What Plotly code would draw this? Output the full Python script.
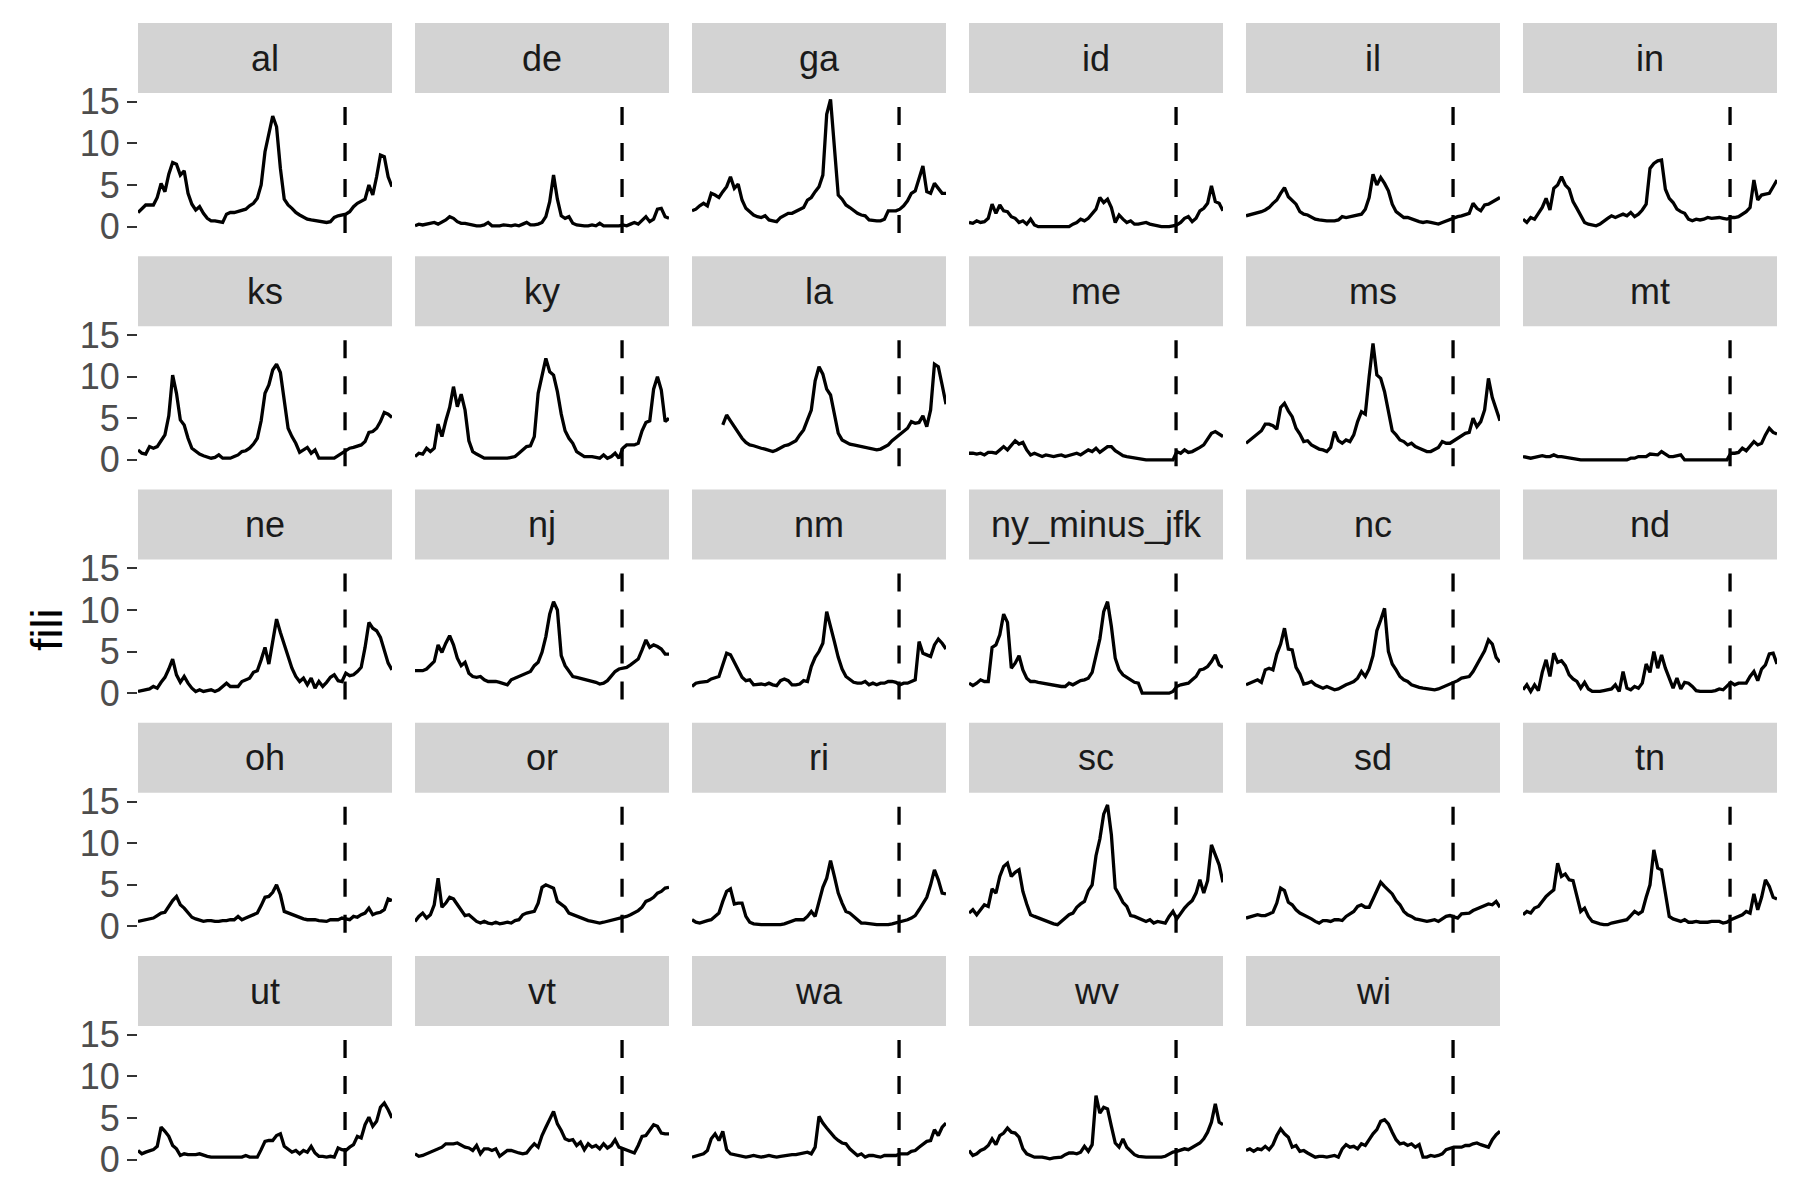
import plotly.graph_objects as go

# ---------------- data ----------------
weeks = list(range(67))
forecast_week = 53.8
states = ["al", "de", "ga", "id", "il", "in",
          "ks", "ky", "la", "me", "ms", "mt",
          "ne", "nj", "nm", "ny_minus_jfk", "nc", "nd",
          "oh", "or", "ri", "sc", "sd", "tn",
          "ut", "vt", "wa", "wv", "wi"]
y_ticks = [0, 5, 10, 15]
y_label = "fili"

fili_al = [1.7,2.2,2.6,2.6,2.6,3.5,5.2,4.2,6.3,7.7, 7.5,6.2,6.7,4.0,2.7,2.0,2.4,1.6,1.0,0.7, 0.7,0.6,0.5,1.5,1.7,1.7,1.8,1.9,2.1,2.5, 2.8,3.4,5.0,9.0,11.0,13.3,12.0,7.0,3.3,2.6, 2.2,1.7,1.4,1.1,0.9,0.8,0.7,0.6,0.5,0.5, 0.6,1.1,1.3,1.4,1.5,1.8,2.4,2.8,3.0,3.3, 5.0,3.8,6.0,8.6,8.4,6.0,4.8]
fili_de = [0.1,0.3,0.2,0.3,0.4,0.5,0.3,0.5,0.8,1.2, 1.0,0.6,0.4,0.4,0.3,0.1,0.1,0.1,0.2,0.5, 0.1,0.1,0.1,0.2,0.1,0.1,0.2,0.1,0.3,0.5, 0.2,0.2,0.3,0.5,1.2,3.0,6.2,3.3,1.3,1.0, 1.2,0.4,0.2,0.1,0.1,0.1,0.2,0.1,0.4,0.1, 0.1,0.1,0.1,0.1,0.2,0.1,0.3,0.5,0.3,0.8, 1.2,0.6,0.9,2.1,2.2,1.2,1.0]
fili_ga = [1.9,2.1,2.5,2.8,2.5,4.0,3.8,3.5,4.2,4.8, 6.0,4.6,5.1,3.2,2.2,1.8,1.4,1.2,1.1,1.3, 0.8,0.7,0.6,1.1,1.4,1.6,1.6,1.8,2.0,2.3, 3.2,3.5,4.2,4.8,6.2,13.5,15.3,9.0,3.8,3.3, 2.6,2.3,1.9,1.6,1.4,1.3,0.8,0.7,0.7,0.7, 0.9,1.9,1.9,1.9,2.1,2.5,3.1,4.0,4.3,5.7, 7.3,4.2,4.0,5.2,4.6,4.0,4.0]
fili_id = [0.5,0.4,0.7,0.5,0.6,1.0,2.7,1.6,2.6,1.9, 1.8,1.2,1.0,0.5,0.7,0.3,0.9,0.2,0.0,0.0, 0.0,0.0,0.0,0.0,0.0,0.0,0.0,0.3,0.5,0.9, 0.7,1.0,1.5,2.1,3.5,2.9,3.3,2.3,0.5,1.4, 0.9,0.5,0.7,0.3,0.3,0.4,0.5,0.3,0.2,0.0, 0.0,0.0,0.0,0.1,0.2,0.5,1.0,1.2,0.6,1.0, 1.9,2.2,2.8,4.9,3.0,2.8,1.9]
fili_il = [1.3,1.4,1.6,1.7,1.8,2.0,2.3,2.8,3.2,4.0, 4.7,3.6,3.2,2.7,1.8,1.5,1.4,1.1,0.9,0.8, 0.7,0.7,0.7,0.7,0.8,1.2,1.1,1.2,1.3,1.4, 1.5,2.1,3.5,6.3,5.0,5.9,5.2,4.3,2.7,1.8, 1.5,1.1,1.1,0.9,0.7,0.6,0.5,0.6,0.5,0.4, 0.3,0.5,0.7,0.9,1.1,1.2,1.3,1.4,1.6,2.8, 2.2,1.9,2.6,2.7,3.0,3.3,3.5]
fili_in = [0.9,0.5,1.1,0.9,1.6,2.3,3.4,2.0,4.6,5.0, 6.0,5.0,4.5,3.0,2.2,1.3,0.5,0.3,0.2,0.1, 0.3,0.7,1.0,1.3,1.1,1.3,1.5,1.3,1.7,1.2, 1.5,2.0,2.7,7.0,7.6,7.9,8.0,4.5,3.4,2.9, 2.1,1.8,1.6,0.9,0.7,0.9,0.8,0.9,1.1,1.0, 1.1,1.1,1.0,0.9,1.1,1.1,1.2,1.5,1.8,2.3, 5.6,3.2,3.8,3.9,4.0,4.8,5.6]
fili_ks = [1.2,0.8,0.7,1.6,1.4,1.6,2.3,3.0,5.3,10.2, 8.0,4.8,4.2,2.6,1.4,1.0,0.7,0.5,0.4,0.2, 0.3,0.6,0.2,0.2,0.2,0.4,0.6,1.0,1.1,1.4, 1.9,2.6,4.7,8.0,9.0,10.8,11.5,10.5,6.8,3.8, 2.8,2.0,0.9,1.2,1.5,0.8,1.2,0.2,0.2,0.2, 0.2,0.2,0.5,0.8,1.2,1.4,1.5,1.6,1.8,2.2, 3.3,3.4,3.8,4.6,5.7,5.5,5.1]
fili_ky = [0.4,0.8,0.7,1.4,1.0,1.4,4.3,2.8,4.7,6.3, 8.8,6.4,7.9,6.0,2.3,1.0,0.7,0.4,0.2,0.2, 0.2,0.2,0.2,0.2,0.2,0.3,0.4,0.8,1.2,1.6, 1.7,2.8,8.0,10.3,12.2,10.6,10.2,8.2,5.5,3.5, 2.6,2.0,1.0,0.7,0.4,0.4,0.4,0.3,0.2,0.6, 0.2,0.4,0.8,0.2,1.4,1.8,1.8,1.8,2.0,3.5, 4.5,4.7,8.5,10.0,8.4,4.6,5.0]
fili_la = [None,None,None,None,None,None,None,None,4.2,5.4, 4.7,4.0,3.4,2.6,2.1,1.8,1.7,1.5,1.4,1.3, 1.1,1.0,1.2,1.5,1.7,1.8,2.0,2.3,3.0,3.6, 4.8,6.0,9.5,11.2,10.3,8.5,7.8,5.5,3.2,2.4, 2.1,1.9,1.8,1.7,1.5,1.4,1.3,1.2,1.2,1.3, 1.5,1.8,2.3,2.7,3.1,3.5,3.8,4.6,4.4,4.5, 5.3,4.0,6.0,11.5,11.2,9.0,6.7]
fili_me = [0.8,0.8,0.7,0.8,0.6,0.9,0.9,0.8,1.2,1.6, 1.2,1.8,2.3,1.9,2.1,1.2,0.6,0.8,0.6,0.4, 0.6,0.5,0.4,0.5,0.6,0.4,0.5,0.6,0.8,0.6, 0.9,1.2,1.0,1.4,0.9,1.2,1.6,1.6,1.1,0.8, 0.5,0.4,0.3,0.2,0.2,0.1,0.0,0.0,0.0,0.0, 0.0,0.0,0.0,0.0,1.0,0.8,1.2,0.9,1.0,1.2, 1.5,1.8,2.5,3.2,3.4,3.1,2.8]
fili_ms = [2.0,2.4,2.7,3.2,3.5,4.3,4.3,4.1,3.7,6.3, 6.8,5.9,5.2,3.8,3.1,2.2,2.3,1.8,1.5,1.3, 1.2,1.0,1.5,3.4,2.3,2.0,2.4,2.2,3.0,4.6, 5.8,5.5,10.0,14.0,10.2,9.8,8.2,6.0,3.5,3.0, 2.4,2.2,1.8,2.0,1.6,1.4,1.2,1.0,1.0,1.2, 1.5,2.2,2.0,2.0,2.3,2.6,2.9,3.2,3.3,5.0, 4.0,4.6,6.0,9.8,7.5,6.0,4.7]
fili_mt = [0.4,0.3,0.2,0.3,0.4,0.5,0.4,0.4,0.6,0.4, 0.4,0.3,0.3,0.1,0.0,0.0,0.0,0.0,0.0,0.0, 0.0,0.0,0.0,0.0,0.0,0.0,0.0,0.0,0.2,0.2, 0.4,0.4,0.4,0.7,0.6,0.6,1.0,0.7,0.4,0.4, 0.5,0.6,0.0,0.0,0.0,0.0,0.0,0.0,0.0,0.0, 0.0,0.0,0.0,0.0,0.8,0.8,0.9,1.4,1.1,1.6, 2.2,1.8,2.0,3.0,3.8,3.3,3.1]
fili_ne = [0.2,0.3,0.5,0.5,0.8,0.6,1.3,1.9,2.9,4.1, 2.2,1.3,2.0,1.2,0.6,0.2,0.4,0.2,0.3,0.4, 0.2,0.4,0.8,1.2,0.8,0.8,0.8,1.4,1.6,1.8, 2.5,2.7,4.0,5.5,3.5,6.0,8.9,7.3,5.8,4.3, 3.0,2.0,1.4,1.8,1.0,1.8,0.6,1.4,0.8,1.3, 1.9,2.2,1.5,1.4,2.4,2.1,2.2,2.6,3.1,5.5, 8.5,7.8,7.5,6.7,5.1,3.6,2.8]
fili_nj = [2.7,2.7,2.7,2.9,3.4,3.8,5.8,4.9,6.0,6.9, 5.8,4.2,3.3,3.7,2.4,2.0,1.9,2.0,1.6,1.4, 1.4,1.4,1.3,1.2,1.0,1.6,1.8,2.0,2.1,2.4, 2.6,3.3,3.7,4.9,6.8,9.5,11.0,10.0,4.5,3.3, 2.6,2.0,1.9,1.8,1.6,1.6,1.5,1.3,1.1,1.2, 1.5,2.0,2.6,2.9,3.0,3.1,3.4,3.7,4.1,5.2, 6.4,5.5,5.8,5.6,5.3,4.7,4.7]
fili_nm = [0.8,1.2,1.3,1.4,1.4,1.7,1.9,2.0,3.4,4.8, 4.6,3.7,2.8,1.9,1.5,1.6,1.0,1.1,1.1,1.0, 1.2,1.0,0.9,1.5,1.7,1.5,1.0,1.0,1.1,1.5, 1.4,3.2,4.3,5.0,6.0,9.8,7.8,6.2,4.3,2.9, 2.0,1.6,1.3,1.2,1.2,1.4,1.0,1.2,1.0,1.2, 1.2,1.4,1.4,1.3,1.0,1.2,1.2,1.4,1.6,6.2, 4.8,4.6,4.4,5.8,6.5,6.0,5.3]
fili_ny_minus_jfk = [1.2,0.9,1.2,1.6,1.4,1.4,5.5,5.8,7.0,9.5, 8.5,3.0,3.6,4.5,2.8,1.8,1.4,1.4,1.3,1.2, 1.1,1.0,0.9,0.8,0.8,0.8,1.2,1.0,1.3,1.5, 1.6,1.8,2.5,4.5,6.5,9.8,11.0,8.0,4.2,2.8, 2.2,1.9,1.6,1.3,1.2,0.0,0.0,0.0,0.0,0.0, 0.0,0.0,0.0,0.2,0.8,1.0,1.1,1.2,1.6,2.0, 2.8,2.9,3.2,3.8,4.6,3.4,3.1]
fili_nc = [1.0,1.2,1.4,1.6,1.3,2.8,3.0,2.8,4.7,5.9, 7.8,5.3,5.2,3.1,2.3,1.1,1.2,1.4,1.0,0.8, 0.6,0.8,0.6,0.4,0.5,0.8,1.0,1.2,1.4,1.8, 2.6,2.0,2.9,4.5,7.5,8.8,10.2,5.0,3.5,2.8, 2.0,1.6,1.4,1.0,0.8,0.7,0.6,0.5,0.4,0.4, 0.5,0.7,0.8,1.0,1.3,1.5,1.8,1.9,2.0,2.6, 3.5,4.2,5.1,6.4,5.9,4.3,3.7]
fili_nd = [0.4,1.0,0.2,1.0,0.3,2.5,4.0,2.0,4.8,3.7, 3.9,3.3,2.2,1.7,1.4,0.6,1.3,0.5,0.2,0.2, 0.2,0.3,0.4,0.5,1.0,0.2,2.6,0.6,0.4,0.8, 0.6,1.2,3.5,2.5,5.0,3.0,4.6,3.0,1.8,0.6, 1.8,0.5,1.3,1.2,0.8,0.3,0.2,0.2,0.2,0.2, 0.3,0.5,0.4,0.9,1.3,1.0,1.2,1.2,1.2,2.0, 2.6,1.5,2.9,3.4,4.7,4.8,3.5]
fili_oh = [0.6,0.7,0.8,0.9,1.0,1.3,1.6,1.7,2.4,3.1, 3.6,2.6,2.2,1.6,1.1,0.9,0.8,0.6,0.7,0.7, 0.6,0.6,0.7,0.7,0.8,0.8,1.2,0.8,1.0,1.2, 1.4,1.6,2.5,3.5,3.6,4.1,5.0,3.8,1.8,1.6, 1.4,1.2,1.0,0.9,0.8,0.8,0.8,0.7,0.6,0.6, 0.8,0.8,0.8,1.0,0.9,0.8,1.2,1.1,1.4,1.6, 2.2,1.4,1.6,1.7,2.0,3.3,3.1]
fili_or = [0.6,1.2,1.6,1.0,1.4,2.6,5.8,2.3,2.8,3.5, 3.3,2.6,2.0,1.3,1.4,1.0,0.6,0.4,0.6,0.4, 0.3,0.5,0.3,0.4,0.5,0.4,0.7,0.8,1.4,1.6, 1.7,1.8,2.8,4.7,5.0,4.8,4.6,3.0,2.6,2.3, 1.6,1.4,1.3,1.0,0.8,0.7,0.6,0.5,0.4,0.5, 0.6,0.7,0.8,0.9,1.0,1.2,1.4,1.6,1.9,2.3, 3.0,3.2,3.5,4.0,4.2,4.6,4.7]
fili_ri = [0.8,0.5,0.4,0.6,0.7,0.8,1.2,1.6,3.0,4.2, 4.5,2.7,2.8,2.8,1.2,0.5,0.3,0.2,0.2,0.2, 0.2,0.2,0.2,0.2,0.3,0.5,0.6,0.8,0.8,0.8, 1.2,1.8,1.2,3.0,4.7,5.8,7.9,6.0,4.0,2.8, 1.8,1.6,1.2,0.8,0.4,0.4,0.3,0.2,0.2,0.2, 0.2,0.2,0.3,0.4,0.5,0.6,0.8,1.0,1.3,2.0, 2.7,3.5,5.0,6.8,5.6,4.0,3.9]
fili_sc = [1.6,2.0,1.4,2.0,2.6,2.4,4.5,4.0,6.0,7.2, 7.6,6.0,6.5,6.8,4.2,2.7,1.4,1.2,1.0,0.8, 0.6,0.4,0.3,0.2,0.6,1.0,1.4,1.6,2.3,2.7, 3.0,4.3,5.0,8.5,10.5,13.5,14.6,11.0,4.6,3.8, 2.9,2.4,1.3,1.2,1.0,0.8,0.6,0.8,0.4,0.6, 0.5,0.4,1.2,1.8,0.9,1.6,2.2,2.7,3.1,4.0, 5.6,4.0,5.5,9.8,8.7,7.4,5.3]
fili_sd = [1.0,1.1,1.2,1.4,1.3,1.3,1.5,1.7,2.8,4.6, 4.3,2.9,2.6,2.0,1.6,1.4,1.1,0.9,0.6,0.4, 0.7,0.7,0.6,0.8,0.8,0.7,1.2,1.5,1.8,2.4, 2.6,2.3,2.3,3.3,4.3,5.3,4.8,4.4,3.9,3.1, 2.6,1.8,1.4,1.2,0.9,0.8,0.7,0.6,0.7,0.8, 0.6,0.9,1.2,1.3,1.1,1.0,1.5,1.6,1.6,1.9, 2.1,2.4,2.6,2.7,2.6,3.0,2.3]
fili_tn = [1.4,1.8,1.6,2.2,2.4,3.0,3.6,4.0,4.4,7.6, 6.0,6.3,5.6,5.5,3.8,1.8,2.2,1.2,0.6,0.4, 0.3,0.2,0.2,0.4,0.5,0.6,0.8,0.8,1.3,1.8, 1.5,1.8,3.5,5.0,9.2,7.0,6.8,3.8,1.2,0.9, 0.8,0.6,0.8,0.5,0.5,0.6,0.5,0.5,0.5,0.6, 0.6,0.6,0.4,0.5,0.8,1.0,1.2,1.4,1.8,1.6, 3.9,2.0,3.5,5.6,4.8,3.5,3.3]
fili_ut = [1.1,0.7,0.9,1.1,1.2,1.6,3.9,3.4,2.8,1.7, 1.3,0.5,0.7,0.6,0.6,0.6,0.7,0.5,0.4,0.3, 0.3,0.3,0.3,0.3,0.3,0.3,0.3,0.3,0.5,0.3, 0.3,0.3,1.2,2.2,2.3,2.3,2.9,3.1,1.6,1.3, 0.9,1.1,0.7,1.1,0.9,1.6,0.8,0.4,0.4,0.3, 0.4,0.3,1.4,1.2,1.1,1.5,1.8,2.8,2.6,4.2, 5.1,4.0,4.6,6.3,6.8,6.0,5.0]
fili_vt = [0.7,0.4,0.5,0.7,0.9,1.1,1.3,1.5,1.9,1.9, 1.9,2.0,1.7,1.5,1.4,1.1,1.7,0.7,1.3,1.3, 1.1,1.3,0.4,0.8,1.1,1.1,0.9,0.8,0.7,0.8, 1.4,1.9,1.5,2.9,3.9,4.8,5.8,4.3,3.5,2.5, 2.3,2.4,1.7,2.1,1.2,1.9,1.5,1.7,1.3,1.9, 1.4,1.7,2.4,1.5,1.3,1.1,0.9,0.8,1.7,2.8, 2.9,3.6,4.2,4.0,3.2,3.1,3.1]
fili_wa = [0.3,0.4,0.5,0.7,1.1,2.5,3.1,2.3,3.4,1.2, 0.7,0.6,0.5,0.4,0.3,0.4,0.5,0.4,0.3,0.4, 0.5,0.4,0.3,0.4,0.5,0.5,0.6,0.6,0.7,0.8, 0.9,0.7,1.5,5.2,4.4,3.8,3.2,2.7,2.3,2.0, 1.9,1.3,0.9,0.5,0.7,0.3,0.5,0.5,0.4,0.3, 0.5,0.5,0.5,0.5,0.7,0.7,0.7,1.0,1.1,1.5, 1.9,2.2,2.3,3.6,2.9,3.9,4.4]
fili_wv = [1.1,0.5,0.7,1.1,1.3,1.7,2.5,1.8,2.9,3.2, 3.8,3.3,3.2,2.7,1.3,0.7,0.5,0.3,0.3,0.3, 0.2,0.1,0.2,0.3,0.3,0.6,0.8,0.8,0.7,0.9, 1.6,1.0,1.8,7.7,5.6,6.3,6.1,4.0,2.0,1.5, 2.5,1.5,1.0,0.6,0.4,0.3,0.3,0.3,0.3,0.3, 0.3,0.4,0.7,0.9,1.0,1.1,1.3,1.2,1.5,1.7, 2.0,2.5,3.3,4.5,6.7,4.5,4.2]
fili_wi = [1.1,1.3,1.0,1.3,1.2,1.6,1.2,1.8,2.9,3.7, 3.1,2.7,1.5,1.7,1.0,1.1,0.8,0.5,0.3,0.4, 0.4,0.3,0.4,0.5,0.3,1.3,1.8,1.5,1.6,1.3, 1.9,1.7,2.4,3.1,3.6,4.6,4.8,4.3,3.3,2.4, 1.9,2.0,1.7,1.9,1.5,1.8,0.3,0.3,0.5,0.4, 0.5,0.7,1.2,1.4,1.5,1.5,1.5,1.7,1.7,1.9, 2.0,1.8,1.6,1.5,2.4,3.0,3.4]

series = {
    "al": fili_al, "de": fili_de, "ga": fili_ga, "id": fili_id, "il": fili_il, "in": fili_in,
    "ks": fili_ks, "ky": fili_ky, "la": fili_la, "me": fili_me, "ms": fili_ms, "mt": fili_mt,
    "ne": fili_ne, "nj": fili_nj, "nm": fili_nm, "ny_minus_jfk": fili_ny_minus_jfk,
    "nc": fili_nc, "nd": fili_nd, "oh": fili_oh, "or": fili_or, "ri": fili_ri, "sc": fili_sc,
    "sd": fili_sd, "tn": fili_tn, "ut": fili_ut, "vt": fili_vt, "wa": fili_wa, "wv": fili_wv,
    "wi": fili_wi,
}

# ---------------- layout geometry (pixels) ----------------
W, H = 1800, 1200
NCOL = 6
COL0, COLW, COLP = 138, 254, 277
STRIP0, STRIPH, PANELH, ROWP = 23, 70, 140, 233.25
FONT = "Liberation Sans, Arial, Helvetica, sans-serif"
LINE_W = 3.3

ymax = max(max(v for v in s if v is not None) for s in series.values())
ypad = 0.05 * ymax
yrange = [-ypad, ymax + ypad]

fig = go.Figure()
layout = dict(
    template="none",
    width=W, height=H, autosize=False,
    margin=dict(l=0, r=0, t=0, b=0, pad=0, autoexpand=False),
    paper_bgcolor="white", plot_bgcolor="white",
    showlegend=False,
    font=dict(family=FONT),
)
shapes, annotations = [], []

for k, st in enumerate(states):
    r, c = divmod(k, NCOL)
    left = COL0 + c * COLP
    right = left + COLW
    s_top = STRIP0 + r * ROWP
    p_top = s_top + STRIPH
    p_bot = p_top + PANELH
    n = k + 1
    xn = "x" if n == 1 else f"x{n}"
    yn = "y" if n == 1 else f"y{n}"
    xa = "xaxis" if n == 1 else f"xaxis{n}"
    ya = "yaxis" if n == 1 else f"yaxis{n}"

    fig.add_trace(go.Scatter(
        x=weeks, y=series[st], mode="lines",
        line=dict(color="black", width=LINE_W),
        xaxis=xn, yaxis=yn, connectgaps=False, hoverinfo="skip",
    ))

    layout[xa] = dict(domain=[left / W, right / W], range=[weeks[0], weeks[-1]],
                      anchor=yn, showgrid=False, zeroline=False, showline=False,
                      showticklabels=False, ticks="", fixedrange=True, automargin=False)
    ycfg = dict(domain=[1 - p_bot / H, 1 - p_top / H], range=yrange, anchor=xn,
                showgrid=False, zeroline=False, showline=False, fixedrange=True,
                automargin=False)
    if c == 0:
        ycfg.update(tickmode="array", tickvals=y_ticks, ticks="outside",
                    ticklen=10, tickwidth=2.2, tickcolor="#333333",
                    showticklabels=True,
                    tickfont=dict(family=FONT, size=36, color="#4D4D4D"))
    else:
        ycfg.update(showticklabels=False, ticks="")
    layout[ya] = ycfg

    # strip
    shapes.append(dict(type="rect", xref="paper", yref="paper",
                       x0=left / W, x1=right / W, y0=1 - p_top / H, y1=1 - s_top / H,
                       fillcolor="#D3D3D3", line=dict(width=0), layer="below"))
    annotations.append(dict(text=st, xref="paper", yref="paper",
                            x=(left + right) / 2 / W, y=1 - (s_top + p_top) / 2 / H,
                            xanchor="center", yanchor="middle", showarrow=False,
                            font=dict(family=FONT, size=36, color="#1A1A1A")))
    # forecast marker (drawn from bottom up)
    shapes.append(dict(type="line", xref=xn, yref=f"{yn} domain",
                       x0=forecast_week, x1=forecast_week, y0=0, y1=1,
                       line=dict(color="black", width=LINE_W, dash="18px,18px")))

annotations.append(dict(text=y_label, xref="paper", yref="paper",
                        x=46 / W, y=1 - 630 / H, xanchor="center", yanchor="middle",
                        textangle=-90, showarrow=False,
                        font=dict(family=FONT, size=45, color="black")))

layout["shapes"] = shapes
layout["annotations"] = annotations
fig.update_layout(**layout)
fig.write_html(
    "out.html",
    post_script=("document.body.style.margin='0';document.body.style.padding='0';"
                 "document.documentElement.style.overflow='hidden';"),
)
